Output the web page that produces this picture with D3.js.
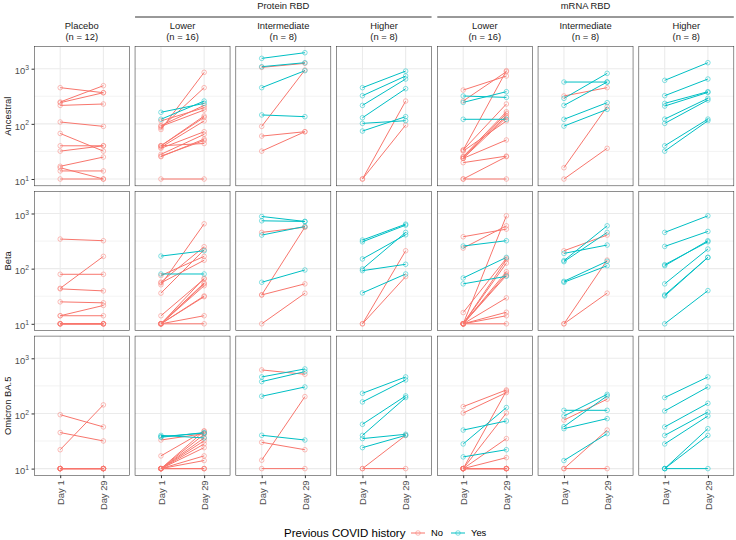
<!DOCTYPE html>
<html><head><meta charset="utf-8">
<script src="https://cdn.jsdelivr.net/npm/d3@7"></script>
<style>body{margin:0;background:#fff} svg{display:block} text{font-family:"Liberation Sans",Arial,Helvetica,sans-serif}</style>
</head><body><svg id="chart" width="736" height="540"></svg>
<script>
// ---------- data ----------
const variants = ["Ancestral", "Beta", "Omicron BA.5"];
const columnLabels = ["Placebo", "Lower", "Intermediate", "Higher", "Lower", "Intermediate", "Higher"];
const columnN = [12, 16, 8, 8, 16, 8, 8];
const vaccineGroups = ["Protein RBD", "mRNA RBD"];
const vaccineGroupColumns = [[1, 3], [4, 6]];
const days = ["Day 1", "Day 29"];
const historyLevels = ["No", "Yes"];
const historyColors = ["#F8766D", "#00BFC4"];
const yTickValues = [10, 100, 1000];
const legendTitle = "Previous COVID history";

// each subject: [Day 1 titre, Day 29 titre, previous COVID history]
const ancestral = [
  [[453,367,"No"],[249,492,"No"],[242,367,"No"],[216,229,"No"],[108,90,"No"],[67,32,"No"],[40,40,"No"],[32,40,"No"],[17,25,"No"],[16,10,"No"],[14,14,"No"],[10,10,"No"]],
  [[79,859,"No"],[85,453,"No"],[113,196,"No"],[93,216,"No"],[90,178,"No"],[40,139,"No"],[40,131,"No"],[37.5,113,"No"],[36,72,"No"],[28,64.5,"No"],[25.4,53,"No"],[40,44,"No"],[26,50,"No"],[10,10,"No"],[162,235,"Yes"],[121,259,"Yes"]],
  [[1057,1250,"No"],[90,946,"No"],[60,72,"No"],[32,72,"No"],[1540,1950,"Yes"],[1087,1285,"Yes"],[453,920,"Yes"],[145,135,"Yes"]],
  [[10,259,"No"],[10,95,"No"],[453,905,"Yes"],[324,737,"Yes"],[216,650,"Yes"],[129,434,"Yes"],[102,114,"Yes"],[74,135,"Yes"]],
  [[410,737,"No"],[260,883,"No"],[33.5,920,"No"],[33.5,229,"No"],[25.4,166,"No"],[23.7,155,"No"],[25.4,139,"No"],[23.7,131,"No"],[32,113,"No"],[19.8,26,"No"],[10,25.4,"No"],[10,10,"No"],[23.7,51,"No"],[320,302,"Yes"],[245,383,"Yes"],[121,121,"Yes"]],
  [[320,453,"No"],[16,205,"No"],[10,36,"No"],[573,573,"Yes"],[290,823,"Yes"],[216,573,"Yes"],[121,242,"Yes"],[91,183,"Yes"]],
  [[615,1285,"Yes"],[324,650,"Yes"],[235,383,"Yes"],[210,372,"Yes"],[122,290,"Yes"],[102,270,"Yes"],[40,122,"Yes"],[32,114,"Yes"]]
];
const beta = [
  [[344,321,"No"],[79,79,"No"],[44,167,"No"],[43,39.5,"No"],[25,24,"No"],[14,21.5,"No"],[14,14,"No"],[10,10,"No"],[10,10,"No"],[10,10,"No"],[10,10,"No"],[10,10,"No"]],
  [[51,650,"No"],[57,250,"No"],[75,167,"No"],[55,142,"No"],[36,220,"No"],[14,65,"No"],[10,53,"No"],[10,49,"No"],[10,32,"No"],[10,31,"No"],[10,14,"No"],[10,10,"No"],[10,67,"No"],[10,55,"No"],[169,211,"Yes"],[80,80,"Yes"]],
  [[454,566,"No"],[33.4,566,"No"],[33.4,53,"No"],[10,35.8,"No"],[883,717,"Yes"],[737,717,"Yes"],[406,582,"Yes"],[56.6,94.6,"Yes"]],
  [[10,211,"No"],[10,71.7,"No"],[330,641,"Yes"],[307,615,"Yes"],[150,411,"Yes"],[98.6,454,"Yes"],[92,120,"Yes"],[36.3,80,"Yes"]],
  [[379,521,"No"],[236,598,"No"],[10,908,"No"],[16,154,"No"],[10,126,"No"],[10,88,"No"],[10,80,"No"],[10,29.5,"No"],[10,16.2,"No"],[10,14,"No"],[10,10,"No"],[10,145,"No"],[10,75,"No"],[257,321,"Yes"],[67.8,160,"Yes"],[53,72.7,"Yes"]],
  [[211,406,"No"],[10,143,"No"],[10,36,"No"],[189,268,"Yes"],[140,598,"Yes"],[134,454,"Yes"],[59,136,"Yes"],[56.6,113,"Yes"]],
  [[454,908,"Yes"],[253,473,"Yes"],[118,307,"Yes"],[113,321,"Yes"],[53,227,"Yes"],[33.4,160,"Yes"],[32,160,"Yes"],[10,40,"Yes"]]
];
const omicronBA5 = [
  [[95,57,"No"],[45,31.7,"No"],[22,143,"No"],[10,10,"No"],[10,10,"No"],[10,10,"No"],[10,10,"No"],[10,10,"No"],[10,10,"No"],[10,10,"No"],[10,10,"No"],[10,10,"No"]],
  [[33,43,"No"],[17,48,"No"],[10,48,"No"],[10,42,"No"],[10,36,"No"],[10,32,"No"],[10,24,"No"],[10,17,"No"],[10,14,"No"],[10,10,"No"],[10,10,"No"],[10,10,"No"],[10,28,"No"],[40,36,"Yes"],[37,45,"Yes"],[38,44,"Yes"]],
  [[615,513,"No"],[14.2,202,"No"],[30,22,"No"],[10,10,"No"],[459,641,"Yes"],[378,573,"Yes"],[205,302,"Yes"],[40.2,33,"Yes"]],
  [[10,40,"No"],[10,10,"No"],[232,459,"Yes"],[162,405,"Yes"],[63.6,208,"Yes"],[40,194,"Yes"],[35,41.9,"Yes"],[24,40,"Yes"]],
  [[133,267,"No"],[102,239,"No"],[10,256,"No"],[10,102,"No"],[10,35,"No"],[10,15.8,"No"],[10,10,"No"],[10,10,"No"],[10,10,"No"],[10,10,"No"],[10,10,"No"],[10,10,"No"],[10,10,"No"],[50,73,"Yes"],[28,128,"Yes"],[16.3,22,"Yes"]],
  [[76,181,"No"],[10,50,"No"],[10,10,"No"],[114,114,"Yes"],[90,222,"Yes"],[57.7,208,"Yes"],[53,80.6,"Yes"],[14,43,"Yes"]],
  [[194,459,"Yes"],[111,302,"Yes"],[57,153,"Yes"],[40,106,"Yes"],[28,90,"Yes"],[10,53,"Yes"],[10,40,"Yes"],[10,10,"Yes"]]
];
const panelData = [ancestral, beta, omicronBA5];

// ---------- layout ----------
const svg = d3.select("#chart");
const panelW = 95, panelH = 139.3;
const colLeft = i => 34.3 + i * 100.75;
const rowTop = r => 46.5 + r * 144.8;
const FS = 9.4;

const x = d3.scalePoint().domain(days).range([0, panelW]).padding(0.6);
const y = d3.scaleLog().domain([Math.pow(10, 0.8767), Math.pow(10, 3.4025)]).range([panelH, 0]);
const color = d3.scaleOrdinal().domain(historyLevels).range(historyColors);
const line = d3.line().x(d => x(d[0])).y(d => y(d[1]));

// strips: outer groups
vaccineGroups.forEach((g, i) => {
  const [a, b] = vaccineGroupColumns[i];
  const x0 = colLeft(a), x1 = colLeft(b) + panelW;
  svg.append("text").attr("x", (x0 + x1) / 2).attr("y", 5.5).attr("dy", "0.35em")
    .attr("text-anchor", "middle").attr("font-size", FS).attr("fill", "#1A1A1A").text(g);
  svg.append("line").attr("x1", x0).attr("x2", x1).attr("y1", 17).attr("y2", 17)
    .attr("stroke", "#333").attr("stroke-width", 1);
});
// strips: columns
columnLabels.forEach((lab, c) => {
  const cx = colLeft(c) + panelW / 2;
  const t = svg.append("text").attr("text-anchor", "middle").attr("font-size", FS).attr("fill", "#1A1A1A");
  t.append("tspan").attr("x", cx).attr("y", 25.6).attr("dy", "0.35em").text(lab);
  t.append("tspan").attr("x", cx).attr("y", 36.4).attr("dy", "0.35em").text(`(n = ${columnN[c]})`);
});

panelData.forEach((row, r) => {
  // row label
  svg.append("text").attr("transform", `translate(7.5,${rowTop(r) + panelH / 2}) rotate(-90)`)
    .attr("text-anchor", "middle").attr("dy", "0.35em").attr("font-size", FS).attr("fill", "#1A1A1A")
    .text(variants[r]);
  row.forEach((subjects, c) => {
    const g = svg.append("g").attr("transform", `translate(${colLeft(c)},${rowTop(r)})`);
    // grid
    [Math.pow(10, 1.5), Math.pow(10, 2.5)].forEach(v =>
      g.append("line").attr("x1", 0).attr("x2", panelW).attr("y1", y(v)).attr("y2", y(v))
        .attr("stroke", "#EBEBEB").attr("stroke-width", 0.6));
    yTickValues.forEach(v =>
      g.append("line").attr("x1", 0).attr("x2", panelW).attr("y1", y(v)).attr("y2", y(v))
        .attr("stroke", "#EBEBEB").attr("stroke-width", 1.1));
    days.forEach(d =>
      g.append("line").attr("x1", x(d)).attr("x2", x(d)).attr("y1", 0).attr("y2", panelH)
        .attr("stroke", "#EBEBEB").attr("stroke-width", 1.1));
    // lines
    const ordered = historyLevels.flatMap(h => subjects.filter(s => s[2] === h));
    g.selectAll("path.subj").data(ordered).join("path").attr("class", "subj")
      .attr("d", s => line([[days[0], s[0]], [days[1], s[1]]]))
      .attr("fill", "none").attr("stroke", s => color(s[2])).attr("stroke-width", 1);
    // points
    const pts = ordered.flatMap(s => [[days[0], s[0], s[2]], [days[1], s[1], s[2]]]);
    g.selectAll("circle").data(pts).join("circle")
      .attr("cx", p => x(p[0])).attr("cy", p => y(p[1])).attr("r", 2.3)
      .attr("fill", "none").attr("stroke", p => color(p[2])).attr("stroke-width", 0.8).attr("stroke-opacity", 0.6);
    // border
    g.append("rect").attr("x", 0).attr("y", 0).attr("width", panelW).attr("height", panelH)
      .attr("fill", "none").attr("stroke", "#333").attr("stroke-width", 0.55);
    // y axis
    if (c === 0) {
      const ax = g.append("g").call(d3.axisLeft(y).tickValues(yTickValues).tickSize(2.75).tickPadding(2.5).tickFormat(""));
      ax.select(".domain").remove();
      ax.selectAll(".tick line").attr("stroke", "#333");
      ax.selectAll(".tick text").each(function (d) {
        const t = d3.select(this).attr("font-size", FS).attr("fill", "#4D4D4D").attr("font-family", null).attr("dy", "0.55em");
        t.append("tspan").text("10");
        t.append("tspan").attr("dy", "-0.6em").attr("font-size", FS * 0.72).text(Math.round(Math.log10(d)));
      });
    }
    // x axis
    if (r === panelData.length - 1) {
      const ax = g.append("g").attr("transform", `translate(0,${panelH})`)
        .call(d3.axisBottom(x).tickSize(2.75));
      ax.select(".domain").remove();
      ax.selectAll(".tick line").attr("stroke", "#333");
      ax.selectAll(".tick text").attr("font-size", FS).attr("fill", "#4D4D4D").attr("font-family", null)
        .attr("transform", "rotate(-90)").attr("text-anchor", "end")
        .attr("x", -5).attr("y", 0).attr("dy", "0.35em");
    }
  });
});

// legend
const lg = svg.append("g").attr("transform", "translate(0,533)");
lg.append("text").attr("x", 284).attr("y", 0).attr("dy", "0.35em").attr("font-size", 11.5).attr("fill", "#000").text(legendTitle);
historyLevels.forEach((h, i) => {
  const kx = 411 + i * 40;
  lg.append("line").attr("x1", kx).attr("x2", kx + 14).attr("y1", 0).attr("y2", 0).attr("stroke", color(h)).attr("stroke-width", 1);
  lg.append("circle").attr("cx", kx + 7).attr("cy", 0).attr("r", 2.3).attr("fill", "none").attr("stroke", color(h)).attr("stroke-width", 0.8).attr("stroke-opacity", 0.6);
  lg.append("text").attr("x", kx + 20).attr("y", 0).attr("dy", "0.35em").attr("font-size", FS).attr("fill", "#000").text(h);
});
</script></body></html>
